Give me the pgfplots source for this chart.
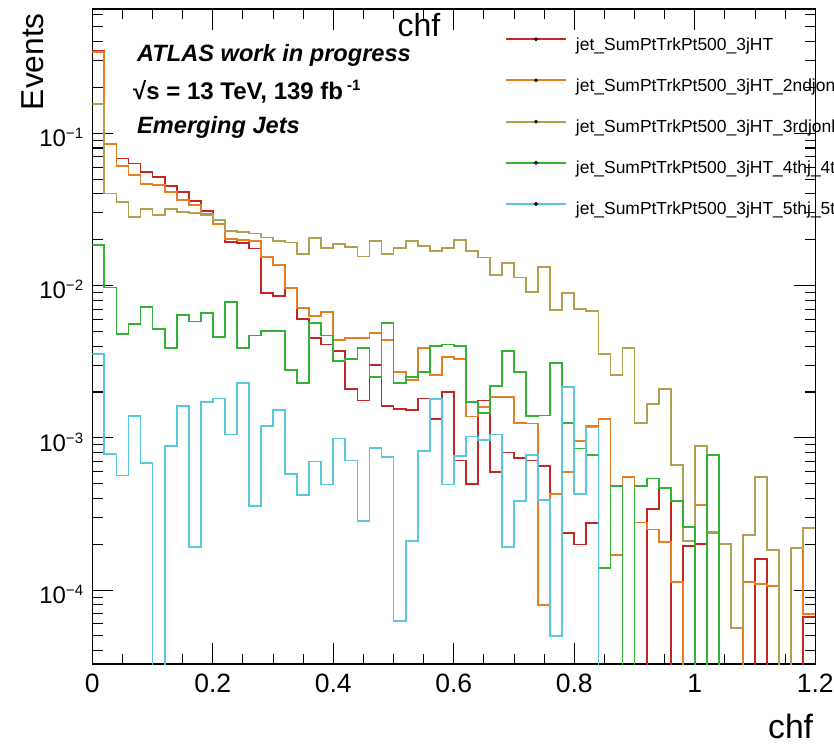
\documentclass[border=0pt]{standalone}
\usepackage{fontspec}
\setmainfont{Liberation Sans}
\usepackage{pgfplots}
\usepackage{pgfplotstable}
\pgfplotsset{compat=1.18}

\definecolor{hred}{RGB}{196,38,38}
\definecolor{horange}{RGB}{232,126,36}
\definecolor{holive}{RGB}{176,160,80}
\definecolor{hgreen}{RGB}{52,178,52}
\definecolor{hcyan}{RGB}{88,200,218}

% chf distributions, one column per jet selection; x = lower bin edge,
% last row repeats the final bin so the step reaches x = 1.2.
% Empty bins are stored as 1e-9 (below the visible range).
\pgfplotstableread{
x     r        o        ol       g        c
0.00  0.345    0.340    0.155    0.0184   0.00357
0.02  0.0847   0.0847   0.0402   0.0097   0.000787
0.04  0.0683   0.0607   0.0354   0.0048   0.000565
0.06  0.0633   0.0530   0.0282   0.0056   0.00139
0.08  0.0557   0.0467   0.0320   0.0072   0.00068
0.10  0.0517   0.0460   0.0290   0.0052   1e-9
0.12  0.0449   0.0412   0.0320   0.0039   0.000888
0.14  0.0412   0.0363   0.0304   0.0064   0.00161
0.16  0.0360   0.0337   0.0300   0.0058   0.000192
0.18  0.0307   0.0297   0.0290   0.0066   0.00172
0.20  0.0268   0.0253   0.0270   0.0046   0.00181
0.22  0.0193   0.0203   0.0228   0.0078   0.00105
0.24  0.0190   0.0200   0.0225   0.0039   0.00228
0.26  0.0175   0.0195   0.0220   0.0047   0.000357
0.28  0.0089   0.0154   0.0207   0.0050   0.00119
0.30  0.0085   0.0136   0.0195   0.0050   0.00153
0.32  0.0096   0.0096   0.0192   0.0028   0.000577
0.34  0.0060   0.0071   0.0161   0.0023   0.00042
0.36  0.0045   0.0063   0.0206   0.0057   0.00070
0.38  0.0041   0.0067   0.0176   0.0047   0.000494
0.40  0.0037   0.0044   0.0187   0.0032   0.00099
0.42  0.0021   0.0045   0.0180   0.0033   0.00071
0.44  0.00176  0.0045   0.0155   0.0039   0.000285
0.46  0.0030   0.0049   0.0197   0.0025   0.00086
0.48  0.00162  0.0044   0.0161   0.0057   0.00075
0.50  0.00155  0.0027   0.0177   0.0023   0.0000625
0.52  0.00152  0.0024   0.0196   0.0025   0.000209
0.54  0.00181  0.0039   0.0181   0.0027   0.00082
0.56  0.00133  0.0026   0.0169   0.0040   0.00179
0.58  0.0020   0.0034   0.0176   0.0041   0.000494
0.60  0.00071  0.0033   0.0200   0.0040   0.00076
0.62  0.00050  0.00138  0.0169   0.00171  0.00102
0.64  0.00176  0.0016   0.0153   0.00145  0.00097
0.66  0.00060  0.00186  0.0117   0.0022   0.00105
0.68  0.00080  0.00186  0.0140   0.0037   0.000192
0.70  0.00074  0.00125  0.0113   0.0027   0.000386
0.72  0.00071  0.00124  0.0091   0.00139  0.00077
0.74  0.00065  0.00008  0.0133   0.0014   0.000391
0.76  0.00043  0.00043  0.0069   0.0031   0.0000497
0.78  0.000237 0.0006   0.0089   0.00125  0.00216
0.80  0.000199 0.00095  0.0070   0.00085  0.00043
0.82  0.000275 0.00119  0.0068   0.00077  0.00117
0.84  1e-9     0.00133  0.00357  0.000139 1e-9
0.86  1e-9     0.000169 0.0026   0.00048  1e-9
0.88  1e-9     0.00055  0.0039   1e-9     1e-9
0.90  1e-9     0.000278 0.00125  0.00048  1e-9
0.92  0.00034  0.00025  0.00166  0.00054  1e-9
0.94  0.00047  0.000206 0.0021   0.00047  1e-9
0.96  1e-9     0.000113 0.00066  0.000387 1e-9
0.98  0.000195 1e-9     0.00021  0.00026  1e-9
1.00  0.00020  0.00036  0.00088  1e-9     1e-9
1.02  1e-9     0.000237 0.00024  0.00077  1e-9
1.04  1e-9     1e-9     0.00020  1e-9     1e-9
1.06  1e-9     1e-9     0.0000565 1e-9    1e-9
1.08  1e-9     0.000113 0.00023  1e-9     1e-9
1.10  0.00016  0.00011  0.00055  1e-9     1e-9
1.12  1e-9     0.000106 0.000183 1e-9     1e-9
1.14  1e-9     1e-9     1e-9     1e-9     1e-9
1.16  1e-9     0.00019  0.00019  1e-9     1e-9
1.18  0.0000665 0.00007 0.000257 1e-9     1e-9
1.20  0.0000665 0.00007 0.000257 1e-9     1e-9
}\chftable

\begin{document}
\begin{tikzpicture}
\begin{axis}[
  at={(0pt,0pt)}, anchor=south west,
  scale only axis, width=723pt, height=655pt,
  xmin=0, xmax=1.2, ymin=3.27e-5, ymax=0.655,
  ymode=log,
  xtick={0,0.2,0.4,0.6,0.8,1,1.2},
  xticklabels={0,0.2,0.4,0.6,0.8,1,1.2},
  minor xtick={0.05,0.1,0.15,0.25,0.3,0.35,0.45,0.5,0.55,0.65,0.7,0.75,0.85,0.9,0.95,1.05,1.1,1.15},
  ytick={1e-4,1e-3,1e-2,1e-1},
  yticklabels={
    {10\raisebox{8pt}{\fontsize{15}{15}\selectfont −4}},
    {10\raisebox{8pt}{\fontsize{15}{15}\selectfont −3}},
    {10\raisebox{8pt}{\fontsize{15}{15}\selectfont −2}},
    {10\raisebox{8pt}{\fontsize{15}{15}\selectfont −1}}},
  minor ytick={4e-5,5e-5,6e-5,7e-5,8e-5,9e-5,
    2e-4,3e-4,4e-4,5e-4,6e-4,7e-4,8e-4,9e-4,
    2e-3,3e-3,4e-3,5e-3,6e-3,7e-3,8e-3,9e-3,
    2e-2,3e-2,4e-2,5e-2,6e-2,7e-2,8e-2,9e-2,
    2e-1,3e-1,4e-1,5e-1,6e-1},
  tick align=inside,
  major tick length=21pt, minor tick length=10.5pt,
  every tick/.style={black, line width=1.1pt},
  axis line style={line width=1.3pt},
  xticklabel style={font=\fontsize{26.5}{30}\selectfont, anchor=base, inner sep=0pt, yshift=-28pt},
  yticklabel style={font=\fontsize{24}{28}\selectfont, anchor=base east, inner sep=0pt, xshift=-9pt, yshift=-13.3pt},
  every axis plot/.append style={const plot mark left, line width=1.8pt, mark=none},
  legend cell align=left,
  legend image code/.code={
    \draw[#1, line width=2pt] (0pt,6.5pt) -- (60pt,6.5pt);
    \fill[black] (30pt,6.5pt) circle (0.8pt);
  },
  legend style={at={(0.5708,0.9565)}, anchor=north west, draw=none, fill=none,
    inner sep=0pt, outer sep=0pt, row sep=25pt, column sep=9pt,
    font=\fontsize{17.45}{20}\selectfont,
    nodes={inner sep=0pt, text height=12.5pt, text depth=3.5pt}},
]
\addplot[hred]    table[x=x, y=r]  {\chftable};
\addplot[horange] table[x=x, y=o]  {\chftable};
\addplot[holive]  table[x=x, y=ol] {\chftable};
\addplot[hgreen]  table[x=x, y=g]  {\chftable};
\addplot[hcyan]   table[x=x, y=c]  {\chftable};
\legend{jet\_SumPtTrkPt500\_3jHT,
        jet\_SumPtTrkPt500\_3jHT\_2ndjonly,
        jet\_SumPtTrkPt500\_3jHT\_3rdjonly,
        jet\_SumPtTrkPt500\_3jHT\_4thj\_4thjonly,
        jet\_SumPtTrkPt500\_3jHT\_5thj\_5thjonly}
\end{axis}

% histogram title and axis titles
\node[anchor=base, inner sep=0pt, font=\fontsize{32}{36}\selectfont] at (326.7pt,627pt) {chf};
\node[anchor=base east, inner sep=0pt, font=\fontsize{33.7}{38}\selectfont] at (721pt,-74pt) {chf};
\node[rotate=90, anchor=base east, inner sep=0pt, font=\fontsize{31.7}{36}\selectfont] at (-49pt,651pt) {Events};

% analysis labels
\node[anchor=base west, inner sep=0pt, font=\fontsize{23.6}{28}\selectfont\bfseries\itshape] at (44.7pt,602pt) {ATLAS work in progress};
\node[anchor=base west, inner sep=0pt, font=\fontsize{24}{28}\selectfont\bfseries] at (40.7pt,564pt) {√s = 13 TeV, 139 fb\,\raisebox{9pt}{\fontsize{15}{15}\selectfont -1}};
\node[anchor=base west, inner sep=0pt, font=\fontsize{23.6}{28}\selectfont\bfseries\itshape] at (44.7pt,530pt) {Emerging Jets};

\pgfresetboundingbox
\path[use as bounding box] (-92.3pt,-80pt) rectangle (741.7pt,664pt);
\end{tikzpicture}
\end{document}
